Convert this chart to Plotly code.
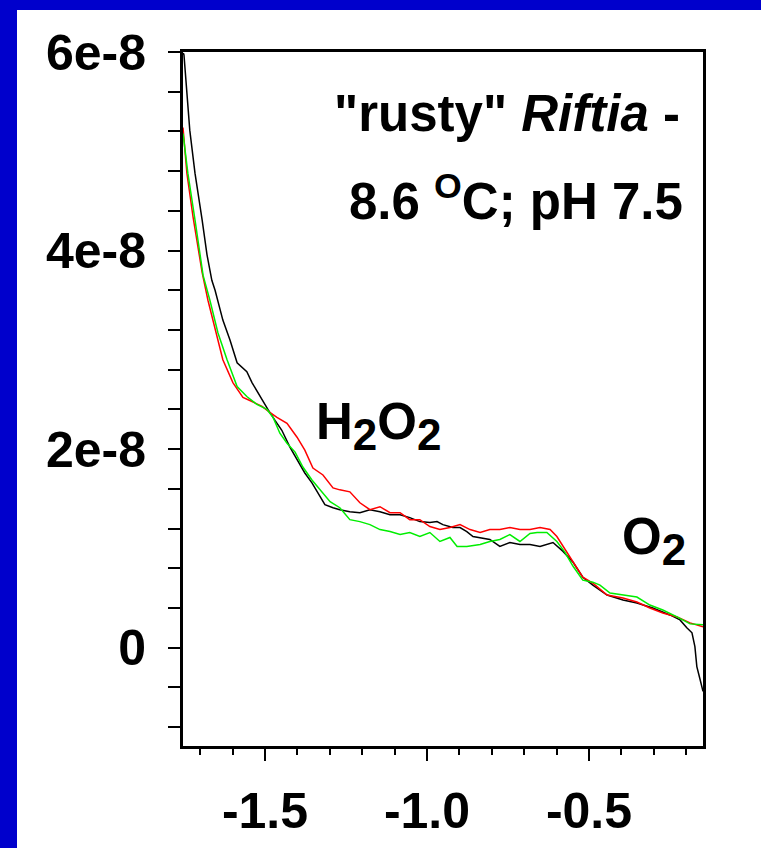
import numpy as np
import plotly.graph_objects as go

# Potential (V) and current (units of 1e-8 A)
black_x = [-1.752, -1.750, -1.732, -1.716, -1.694, -1.679, -1.664, -1.654, -1.630, -1.608,
           -1.586, -1.571, -1.556, -1.540, -1.515, -1.491, -1.469, -1.448, -1.423, -1.401,
           -1.377, -1.355, -1.336, -1.315, -1.290, -1.269, -1.238, -1.207, -1.176, -1.145,
           -1.114, -1.083, -1.053, -1.022, -0.991, -0.969, -0.951, -0.920, -0.898, -0.877,
           -0.858, -0.836, -0.806, -0.775, -0.744, -0.713, -0.682, -0.651, -0.611, -0.580,
           -0.549, -0.519, -0.488, -0.444, -0.395, -0.352, -0.303, -0.250, -0.219, -0.198,
           -0.182, -0.173, -0.167, -0.157, -0.148]
black_y = [5.99, 5.97, 5.21, 4.78, 4.31, 3.96, 3.70, 3.60, 3.30, 3.10,
           2.87, 2.82, 2.78, 2.67, 2.53, 2.40, 2.29, 2.19, 2.02, 1.89,
           1.76, 1.66, 1.56, 1.44, 1.41, 1.39, 1.37, 1.36, 1.39, 1.37,
           1.34, 1.34, 1.31, 1.27, 1.26, 1.27, 1.24, 1.21, 1.21, 1.17,
           1.12, 1.11, 1.09, 1.02, 1.06, 1.04, 1.04, 1.02, 1.06, 0.97,
           0.86, 0.71, 0.63, 0.53, 0.48, 0.45, 0.40, 0.33, 0.28, 0.20,
           0.15, 0.01, -0.19, -0.32, -0.44]

red_x = [-1.753, -1.741, -1.722, -1.694, -1.676, -1.654, -1.630, -1.599, -1.568, -1.540,
         -1.509, -1.485, -1.463, -1.432, -1.401, -1.377, -1.352, -1.321, -1.290, -1.269,
         -1.238, -1.207, -1.176, -1.145, -1.114, -1.083, -1.053, -1.022, -0.991, -0.960,
         -0.929, -0.898, -0.867, -0.836, -0.806, -0.775, -0.744, -0.713, -0.682, -0.651,
         -0.620, -0.599, -0.574, -0.549, -0.519, -0.488, -0.444, -0.395, -0.352, -0.312,
         -0.272, -0.228, -0.188, -0.148]
red_y = [5.24, 4.78, 4.34, 3.78, 3.50, 3.20, 2.90, 2.67, 2.52, 2.48,
         2.43, 2.37, 2.32, 2.26, 2.12, 1.99, 1.81, 1.74, 1.61, 1.59,
         1.57, 1.46, 1.39, 1.42, 1.36, 1.36, 1.29, 1.29, 1.22, 1.19,
         1.21, 1.24, 1.19, 1.16, 1.19, 1.19, 1.21, 1.19, 1.19, 1.21,
         1.19, 1.12, 0.99, 0.86, 0.71, 0.65, 0.53, 0.50, 0.46, 0.40,
         0.35, 0.31, 0.25, 0.21]

green_x = [-1.753, -1.738, -1.716, -1.691, -1.670, -1.645, -1.617, -1.586, -1.556, -1.525,
           -1.494, -1.475, -1.454, -1.432, -1.407, -1.383, -1.355, -1.330, -1.299, -1.269,
           -1.238, -1.207, -1.176, -1.145, -1.114, -1.083, -1.053, -1.022, -0.991, -0.960,
           -0.929, -0.907, -0.877, -0.836, -0.806, -0.775, -0.744, -0.713, -0.682, -0.660,
           -0.630, -0.599, -0.574, -0.549, -0.519, -0.488, -0.466, -0.435, -0.395, -0.352,
           -0.312, -0.272, -0.228, -0.188, -0.148]
green_y = [5.18, 4.78, 4.31, 3.75, 3.50, 3.17, 2.90, 2.63, 2.53, 2.45,
           2.40, 2.32, 2.16, 2.06, 1.97, 1.82, 1.69, 1.59, 1.47, 1.41,
           1.29, 1.27, 1.24, 1.19, 1.17, 1.14, 1.16, 1.12, 1.16, 1.07,
           1.11, 1.02, 1.02, 1.04, 1.07, 1.09, 1.14, 1.07, 1.15, 1.16,
           1.16, 1.07, 0.96, 0.82, 0.68, 0.66, 0.63, 0.55, 0.53, 0.51,
           0.43, 0.38, 0.31, 0.24, 0.23]

x_tick_vals = [-1.5, -1.0, -0.5]
x_tick_text = ["-1.5", "-1.0", "-0.5"]
y_tick_vals = [0, 2e-8, 4e-8, 6e-8]
y_tick_text = ["0", "2e-8", "4e-8", "6e-8"]

SCALE = 1e-8
FONT = "Liberation Sans, Arial, sans-serif"

fig = go.Figure()
for xs, ys, col in [(black_x, black_y, "#000000"),
                    (red_x, red_y, "#ff0000"),
                    (green_x, green_y, "#00ee00")]:
    fig.add_trace(go.Scatter(x=xs, y=[v * SCALE for v in ys], mode="lines",
                             line=dict(color=col, width=1.5), showlegend=False,
                             hoverinfo="skip"))

W, H = 761, 848
ml, mr, mt, mb = 183, 58, 52, 102
pw, ph = W - ml - mr, H - mt - mb


def px_to_paper(px, py):
    return (px - ml) / pw, (H - mb - py) / ph


# blue slide border (left and top strips)
x0, _ = px_to_paper(0, 0)
x1, _ = px_to_paper(17, 0)
xr, _ = px_to_paper(W, 0)
_, ytop = px_to_paper(0, 0)
_, ybot = px_to_paper(0, H)
_, ystrip = px_to_paper(0, 10)
shapes = [
    dict(type="rect", xref="paper", yref="paper", x0=x0, x1=x1, y0=ybot, y1=ytop,
         fillcolor="#0000cc", line=dict(width=0), layer="below"),
    dict(type="rect", xref="paper", yref="paper", x0=x0, x1=xr, y0=ystrip, y1=ytop,
         fillcolor="#0000cc", line=dict(width=0), layer="below"),
]

ann_font = dict(family=FONT, size=51, color="black", weight="bold")
sub2 = '<sub><span style="font-size:44px">2</span></sub>'
annotations = [
    dict(x=px_to_paper(682, 0)[0], y=px_to_paper(0, 113)[1], xref="paper", yref="paper",
         text='"rusty" <i>Riftia</i> -', showarrow=False, xanchor="right", yanchor="middle",
         font=ann_font),
    dict(x=px_to_paper(685, 0)[0], y=px_to_paper(0, 198)[1], xref="paper", yref="paper",
         text='8.6 <sup>O</sup>C; pH 7.5', showarrow=False, xanchor="right", yanchor="middle",
         font=ann_font),
    dict(x=px_to_paper(314, 0)[0], y=px_to_paper(0, 426)[1], xref="paper", yref="paper",
         text='H' + sub2 + 'O' + sub2, showarrow=False, xanchor="left", yanchor="middle",
         font=ann_font),
    dict(x=px_to_paper(620, 0)[0], y=px_to_paper(0, 541)[1], xref="paper", yref="paper",
         text='O' + sub2, showarrow=False, xanchor="left", yanchor="middle",
         font=ann_font),
]

tick_font = dict(family=FONT, size=50, color="black", weight="bold")

fig.update_layout(
    width=W, height=H,
    margin=dict(l=ml, r=mr, t=mt, b=mb, pad=0, autoexpand=False),
    paper_bgcolor="white", plot_bgcolor="white",
    shapes=shapes, annotations=annotations,
    xaxis=dict(range=[-1.753, -0.148], tickmode="array", tickvals=x_tick_vals,
               ticktext=x_tick_text, ticks="outside", ticklen=12, tickwidth=2,
               tickcolor="black", showline=True, linecolor="black", linewidth=3,
               mirror=True, showgrid=False, zeroline=False, tickfont=tick_font,
               ticklabelstandoff=7, automargin=False,
               minor=dict(tickmode="array", tickvals=list(np.round(np.arange(-1.7, -0.15, 0.1), 2)),
                          ticks="outside", ticklen=6, tickwidth=2, tickcolor="black",
                          showgrid=False)),
    yaxis=dict(range=[-0.99e-8, 6e-8], tickmode="array", tickvals=y_tick_vals,
               ticktext=y_tick_text, ticks="outside", ticklen=12, tickwidth=2,
               tickcolor="black", showline=True, linecolor="black", linewidth=3,
               mirror=True, showgrid=False, zeroline=False, tickfont=tick_font,
               ticklabelstandoff=12, automargin=False,
               minor=dict(tickmode="array", tickvals=list(np.arange(-2, 15) * 0.4e-8),
                          ticks="outside", ticklen=12, tickwidth=2, tickcolor="black",
                          showgrid=False)),
)

fig.write_html("out.html")
